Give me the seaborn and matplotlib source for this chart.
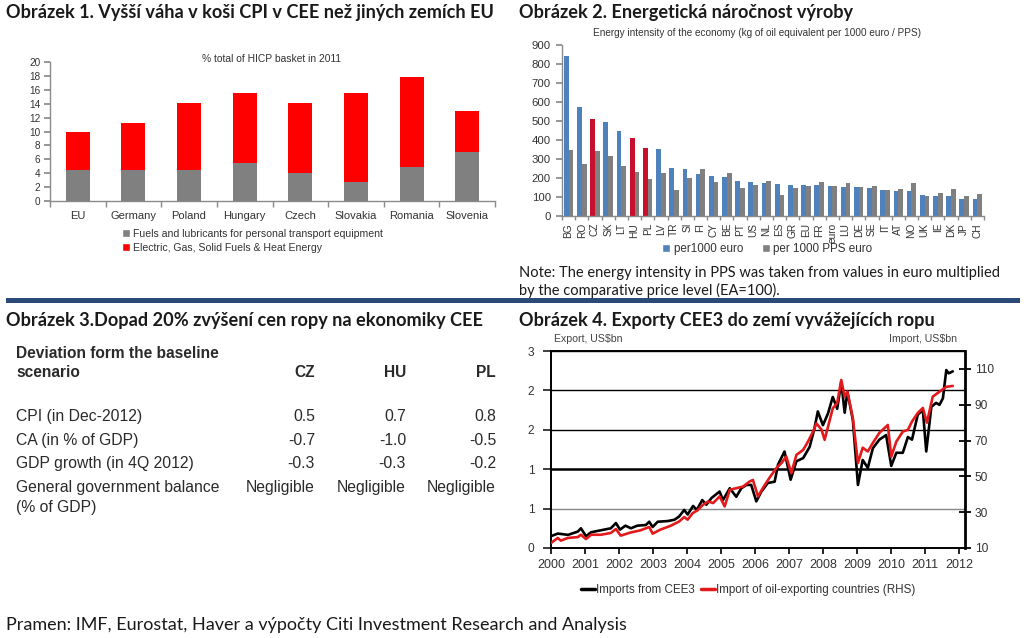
import numpy as np
import pandas as pd
import matplotlib
matplotlib.use("Agg")
import matplotlib.pyplot as plt
import seaborn as sns
from matplotlib.patches import Patch, Rectangle
from matplotlib.lines import Line2D
from matplotlib.ticker import FormatStrFormatter, FixedLocator

# ------------------------------------------------------------------ data
p1_countries = ["EU", "Germany", "Poland", "Hungary", "Czech", "Slovakia", "Romania", "Slovenia"]
p1_fuels = [4.5, 4.4, 4.5, 5.4, 4.0, 2.7, 4.9, 7.1]
p1_energy = [5.5, 6.8, 9.6, 10.2, 10.1, 12.8, 13.0, 5.8]
p1_labels = ["Fuels and lubricants for personal transport equipment",
             "Electric, Gas, Solid Fuels & Heat Energy"]

p2_countries = ["BG", "RO", "CZ", "SK", "LT", "HU", "PL", "LV", "TR", "SI", "FI", "CY", "BE", "PT",
                "US", "NL", "ES", "GR", "EU", "FR", "euro", "LU", "DE", "SE", "IT", "AT", "NO",
                "UK", "IE", "DK", "JP", "CH"]
p2_euro = [840, 575, 510, 495, 450, 410, 360, 352, 253, 248, 220, 210, 205, 185,
           180, 175, 170, 162, 162, 163, 158, 153, 152, 146, 136, 130, 130,
           110, 105, 105, 88, 88]
p2_pps = [350, 275, 340, 315, 262, 230, 195, 225, 137, 200, 246, 180, 228, 148,
          163, 182, 110, 146, 158, 177, 160, 172, 152, 158, 136, 140, 172,
          105, 123, 140, 105, 116]
p2_highlight = ["CZ", "HU", "PL"]
p2_series = ["per1000 euro", "per 1000 PPS euro"]

p3_columns = ["CZ", "HU", "PL"]
p3_rows = ["CPI (in Dec-2012)", "CA (in % of GDP)", "GDP growth (in 4Q 2012)",
           "General government balance\n(% of GDP)"]
p3_cz = ["0.5", "-0.7", "-0.3", "Negligible"]
p3_hu = ["0.7", "-1.0", "-0.3", "Negligible"]
p3_pl = ["0.8", "-0.5", "-0.2", "Negligible"]

p4_black_t = [2000.00, 2000.20, 2000.50, 2000.79, 2000.88, 2001.03, 2001.18, 2001.47, 2001.76, 2001.91,
              2002.03, 2002.19, 2002.35, 2002.54, 2002.79, 2002.89, 2002.99, 2003.14, 2003.43, 2003.63,
              2003.77, 2003.92, 2004.02, 2004.18, 2004.29, 2004.45, 2004.57, 2004.72, 2004.96, 2005.06,
              2005.26, 2005.45, 2005.60, 2005.75, 2005.89, 2006.04, 2006.19, 2006.38, 2006.58, 2006.68,
              2006.87, 2007.05, 2007.22, 2007.42, 2007.61, 2007.75, 2007.85, 2008.00, 2008.15, 2008.29,
              2008.42, 2008.54, 2008.64, 2008.72, 2008.88, 2009.03, 2009.17, 2009.32, 2009.47, 2009.66,
              2009.86, 2010.01, 2010.16, 2010.35, 2010.50, 2010.62, 2010.79, 2010.94, 2011.04, 2011.19,
              2011.33, 2011.43, 2011.53, 2011.63, 2011.70, 2011.82]
p4_black_v = [0.18, 0.22, 0.20, 0.25, 0.30, 0.18, 0.24, 0.27, 0.30, 0.38,
              0.28, 0.34, 0.30, 0.34, 0.35, 0.40, 0.32, 0.40, 0.41, 0.43,
              0.48, 0.58, 0.51, 0.64, 0.58, 0.73, 0.66, 0.76, 0.86, 0.73,
              0.91, 0.78, 0.91, 0.96, 0.96, 0.71, 0.86, 0.99, 1.01, 1.27,
              1.47, 1.04, 1.32, 1.37, 1.54, 1.82, 2.08, 1.87, 2.05, 2.30,
              2.12, 2.53, 2.06, 2.38, 1.95, 0.96, 1.34, 1.22, 1.52, 1.65,
              1.72, 1.25, 1.45, 1.45, 1.69, 1.65, 2.03, 2.10, 1.47, 2.15,
              2.21, 2.18, 2.28, 2.71, 2.66, 2.69]
p4_red_t = [2000.00, 2000.20, 2000.29, 2000.49, 2000.79, 2000.88, 2001.03, 2001.18, 2001.47, 2001.76,
            2001.91, 2002.05, 2002.35, 2002.62, 2002.89, 2002.99, 2003.21, 2003.52, 2003.77, 2003.92,
            2004.02, 2004.17, 2004.31, 2004.47, 2004.62, 2004.77, 2004.96, 2005.11, 2005.26, 2005.45,
            2005.65, 2005.84, 2005.94, 2006.09, 2006.23, 2006.43, 2006.63, 2006.78, 2006.92, 2007.07,
            2007.22, 2007.42, 2007.56, 2007.71, 2007.81, 2007.96, 2008.05, 2008.29, 2008.42, 2008.54,
            2008.64, 2008.72, 2008.88, 2009.03, 2009.17, 2009.32, 2009.47, 2009.66, 2009.91, 2010.01,
            2010.16, 2010.35, 2010.50, 2010.62, 2010.79, 2010.94, 2011.06, 2011.23, 2011.43, 2011.63,
            2011.82]
p4_red_v = [12.8, 15.6, 14.1, 15.6, 16.1, 17.4, 15.0, 17.4, 17.4, 18.4,
            20.6, 16.9, 18.7, 19.8, 21.7, 18.0, 20.2, 22.4, 24.8, 27.3,
            25.8, 29.5, 31.0, 34.1, 36.0, 35.1, 38.8, 33.2, 42.5, 43.4,
            44.3, 47.1, 48.0, 38.8, 43.4, 49.3, 54.6, 57.4, 61.1, 51.8,
            62.0, 64.8, 69.4, 75.0, 79.6, 76.0, 70.4, 88.0, 91.0, 103.8,
            94.5, 97.3, 82.6, 57.5, 66.0, 63.9, 68.7, 74.3, 78.7, 61.0,
            69.4, 75.0, 76.0, 80.6, 85.4, 88.2, 80.0, 94.5, 97.3, 100.0,
            100.5]
p4_left_ticks = [0, 0.6, 1.2, 1.8, 2.4, 3.0]
p4_right_ticks = [10, 30, 50, 70, 90, 110]
p4_years = list(range(2000, 2013))
p4_labels = ["Imports from CEE3", "Import of oil-exporting countries (RHS)"]

titles = ["Obrázek 1. Vyšší váha v koši CPI v CEE než jiných zemích EU",
          "Obrázek 2. Energetická náročnost výroby",
          "Obrázek 3.Dopad 20% zvýšení cen ropy na ekonomiky CEE",
          "Obrázek 4. Exporty CEE3 do zemí vyvážejících ropu"]
note_lines = ["Note: The energy intensity in PPS was taken from values in euro multiplied",
              "by the comparative price level (EA=100)."]
footer = "Pramen: IMF, Eurostat, Haver a výpočty Citi Investment Research and Analysis"

# ------------------------------------------------------------------ style
sns.set_theme(style="white")
plt.rcParams['font.family'] = ['Liberation Sans', 'DejaVu Sans']
plt.rcParams['axes.linewidth'] = 1.0

W, H = 1024, 638
fig = plt.figure(figsize=(W / 100, H / 100), dpi=100)
fig.patch.set_facecolor("white")


def rect(l, t, r, b):
    return [l / W, 1 - b / H, (r - l) / W, (b - t) / H]


def ftext(x, y, s, **kw):
    return fig.text(x / W, 1 - y / H, s, **kw)


TITLE_FONT = ['Lato', 'DejaVu Sans']
TXT = "#1a1a1a"
TS = 13.1

# titles
ftext(6, 18, titles[0], family=TITLE_FONT, fontweight='bold', fontsize=TS, color=TXT, va='baseline')
ftext(519, 18, titles[1], family=TITLE_FONT, fontweight='bold', fontsize=TS, color=TXT, va='baseline')
ftext(6, 326, titles[2], family=TITLE_FONT, fontweight='bold', fontsize=TS, color=TXT, va='baseline')
ftext(519, 326, titles[3], family=TITLE_FONT, fontweight='bold', fontsize=TS, color=TXT, va='baseline')
ftext(519, 277, note_lines[0], family=TITLE_FONT, fontsize=10.5, color=TXT, va='baseline')
ftext(519, 295, note_lines[1], family=TITLE_FONT, fontsize=10.5, color=TXT, va='baseline')
ftext(6, 630, footer, family=TITLE_FONT, fontsize=13.0, color=TXT, va='baseline')

# separator band
fig.add_artist(Rectangle((6 / W, 1 - 303 / H), 1014 / W, 5 / H, transform=fig.transFigure,
                         facecolor="#2C4A78", edgecolor="none"))

GRAYSP = "#8a8a8a"
LBL = "#333333"

# ------------------------------------------------------------------ panel 1
ax1 = fig.add_axes(rect(50, 62, 495, 201))
df1 = pd.DataFrame({"country": p1_countries,
                    "total": np.add(p1_fuels, p1_energy),
                    "fuels": p1_fuels})
sns.barplot(data=df1, x="country", y="total", color="#FF0000", width=0.43, saturation=1,
            linewidth=0, ax=ax1)
sns.barplot(data=df1, x="country", y="fuels", color="#808080", width=0.43, saturation=1,
            linewidth=0, ax=ax1)
ax1.set_xlim(-0.5, len(p1_countries) - 0.5)
ax1.set_ylim(0, 20)
ax1.set_yticks(np.arange(0, 21, 2))
ax1.set_xlabel("")
ax1.set_ylabel("")
for s in ["top", "right"]:
    ax1.spines[s].set_visible(False)
for s in ["left", "bottom"]:
    ax1.spines[s].set_color(GRAYSP)
ax1.tick_params(axis='y', which='major', left=True, length=4, color=GRAYSP, labelsize=7.2,
                labelcolor=LBL, pad=3)
ax1.tick_params(axis='x', which='major', length=0, labelsize=8, labelcolor=LBL, pad=7)
ax1.xaxis.set_minor_locator(FixedLocator(np.arange(-0.5, len(p1_countries), 1.0)))
ax1.tick_params(axis='x', which='minor', bottom=True, length=4, color=GRAYSP)
ftext(271, 59, "% total of HICP basket in 2011", fontsize=7.4, color=LBL, ha='center', va='center')
fig.legend(handles=[Patch(facecolor="#808080", label=p1_labels[0]),
                    Patch(facecolor="#FF0000", label=p1_labels[1])],
           loc='upper left', bbox_to_anchor=(122 / W, 1 - 229 / H), frameon=False, fontsize=7.6,
           handlelength=0.75, handleheight=0.75, handletextpad=0.3, labelspacing=0.35,
           borderpad=0, borderaxespad=0, labelcolor=LBL)

# ------------------------------------------------------------------ panel 2
ax2 = fig.add_axes(rect(562, 45, 984, 216))
n2 = len(p2_countries)
df2 = pd.DataFrame({"country": p2_countries * 2,
                    "value": p2_euro + p2_pps,
                    "series": [p2_series[0]] * n2 + [p2_series[1]] * n2})
sns.barplot(data=df2, x="country", y="value", hue="series", palette=["#4F81BD", "#808080"],
            width=0.72, saturation=1, linewidth=0, legend=False, ax=ax2)
for i, c in enumerate(p2_countries):
    if c in p2_highlight:
        ax2.containers[0][i].set_facecolor("#C8102E")
ax2.set_xlim(-0.5, n2 - 0.5)
ax2.set_ylim(0, 900)
ax2.set_yticks(np.arange(0, 901, 100))
ax2.set_xlabel("")
ax2.set_ylabel("")
for s in ["top", "right"]:
    ax2.spines[s].set_visible(False)
for s in ["left", "bottom"]:
    ax2.spines[s].set_color(GRAYSP)
ax2.tick_params(axis='y', which='major', left=True, length=4, color=GRAYSP, labelsize=8.2,
                labelcolor=LBL, pad=4)
ax2.tick_params(axis='x', which='major', length=0, labelsize=7.3, labelcolor=LBL, pad=5,
                labelrotation=90)
ax2.xaxis.set_minor_locator(FixedLocator(np.arange(-0.5, n2, 1.0)))
ax2.tick_params(axis='x', which='minor', bottom=True, length=3, color=GRAYSP)
ftext(757, 33, "Energy intensity of the economy (kg of oil equivalent per 1000 euro / PPS)",
      fontsize=7.2, color=LBL, ha='center', va='center')
fig.legend(handles=[Patch(facecolor="#4F81BD", label=p2_series[0]),
                    Patch(facecolor="#808080", label=p2_series[1])],
           loc='center left', bbox_to_anchor=(662 / W, 1 - 249 / H), ncol=2, frameon=False,
           fontsize=8.4, handlelength=0.7, handleheight=0.7, handletextpad=0.3, columnspacing=1.6,
           borderpad=0, borderaxespad=0, labelcolor=LBL)

# ------------------------------------------------------------------ panel 3 (table)
TAB_FONT = ['Liberation Sans', 'DejaVu Sans']
TABC = "#2a2a2a"
HS, RS = 11.2, 11.3
ftext(16, 377, "Deviation form the baseline\nscenario", family=TAB_FONT, fontweight='bold',
      fontsize=HS, color=TABC, va='baseline', linespacing=1.3)
col_x = [315, 406, 496]
for cx, name in zip(col_x, p3_columns):
    ftext(cx, 377, name, family=TAB_FONT, fontweight='bold', fontsize=HS, color=TABC,
          ha='right', va='baseline')
row_y = [421, 445, 468, 492]
for ry, rname, a, b, c in zip(row_y, p3_rows, p3_cz, p3_hu, p3_pl):
    parts = rname.split("\n")
    ftext(16, ry, parts[0], family=TAB_FONT, fontsize=RS, color=TABC, va='baseline')
    if len(parts) > 1:
        ftext(16, ry + 20, parts[1], family=TAB_FONT, fontsize=RS, color=TABC, va='baseline')
    for cx, v in zip(col_x, [a, b, c]):
        ftext(cx, ry, v, family=TAB_FONT, fontsize=RS, color=TABC, ha='right', va='baseline')

# ------------------------------------------------------------------ panel 4
ax4 = fig.add_axes(rect(551, 351, 965, 548))
ax4.set_axisbelow(True)
sns.lineplot(x=p4_black_t, y=p4_black_v, color="black", lw=1.9, estimator=None, sort=False, ax=ax4)
ax4.set_xlim(2000, 2012.18)
ax4.set_ylim(0, 3)
ax4.set_yticks(p4_left_ticks)
ax4.yaxis.set_major_formatter(FormatStrFormatter('%.0f'))
ax4.set_xticks(p4_years)
ax4.set_xticklabels([str(y) for y in p4_years])
ax4.yaxis.grid(True, color="black", lw=1.0)
gl = ax4.get_ygridlines()
gl[1].set_color("#888888")
gl[2].set_linewidth(1.8)
for s in ["left", "bottom", "top"]:
    ax4.spines[s].set_color("black")
    ax4.spines[s].set_linewidth(1.4)
ax4.spines["right"].set_visible(False)
ax4.tick_params(axis='y', left=False, labelsize=8.6, labelcolor=LBL, pad=6)
ax4.tick_params(axis='x', bottom=True, length=4, width=1.2, color="black", labelsize=9,
                labelcolor=LBL, pad=4)
ax4.set_xlabel("")
ax4.set_ylabel("")

ax4r = ax4.twinx()
sns.lineplot(x=p4_red_t, y=p4_red_v, color="#E31A1C", lw=1.9, estimator=None, sort=False, ax=ax4r)
ax4r.set_ylim(10, 120)
ax4r.set_yticks(p4_right_ticks)
ax4r.set_xlim(2000, 2012.18)
for s in ["left", "top", "bottom"]:
    ax4r.spines[s].set_visible(False)
ax4r.spines["right"].set_color("black")
ax4r.spines["right"].set_linewidth(2.0)
ax4r.tick_params(axis='y', right=True, direction='inout', length=8, width=1.3, color="black",
                 labelsize=8.6, labelcolor=LBL, pad=3)
ax4r.set_ylabel("")
ftext(554, 342, "Export, US$bn", fontsize=7.6, color="#444444", va='baseline')
ftext(957, 342, "Import, US$bn", fontsize=7.6, color="#444444", ha='right', va='baseline')
fig.legend(handles=[Line2D([], [], color="black", lw=2.5, label=p4_labels[0]),
                    Line2D([], [], color="#E31A1C", lw=2.5, label=p4_labels[1])],
           loc='center left', bbox_to_anchor=(581 / W, 1 - 590 / H), ncol=2, frameon=False,
           fontsize=8.4, handlelength=1.2, handletextpad=0.1, columnspacing=0.5,
           borderpad=0, borderaxespad=0, labelcolor=LBL)

fig.savefig("out.png", dpi=100, facecolor="white")
